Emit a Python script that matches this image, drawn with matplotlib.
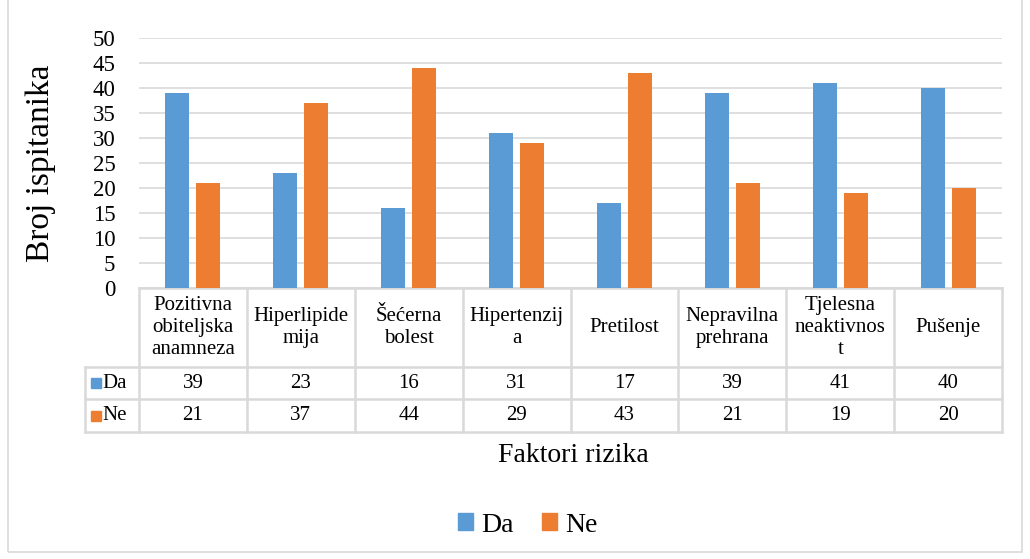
import matplotlib.pyplot as plt
from matplotlib.patches import Rectangle, Patch
from matplotlib.transforms import blended_transform_factory
import numpy as np

plt.rcParams['font.family'] = 'serif'
plt.rcParams['font.serif'] = ['Liberation Serif', 'DejaVu Serif']

# Data
categories = ["Pozitivna\nobiteljska\nanamneza", "Hiperlipide\nmija", "Šećerna\nbolest",
              "Hipertenzij\na", "Pretilost", "Nepravilna\nprehrana",
              "Tjelesna\nneaktivnos\nt", "Pušenje"]
da = [39, 23, 16, 31, 17, 39, 41, 40]
ne = [21, 37, 44, 29, 43, 21, 19, 20]
series_names = ["Da", "Ne"]
colors = ["#5B9BD5", "#ED7D31"]
grid_col = "#D9D9D9"

fig = plt.figure(figsize=(10.3, 5.59), dpi=100)
ax = fig.add_axes([139 / 1030, 1 - 288 / 559, 863 / 1030, 250 / 559])

x = np.arange(len(categories))
w = 0.223
ax.bar(x - 0.144, da, w, color=colors[0], zorder=3)
ax.bar(x + 0.144, ne, w, color=colors[1], zorder=3)

ax.set_xlim(-0.5, len(categories) - 0.5)
ax.set_ylim(0, 50)
ax.set_yticks(range(0, 51, 5))
ax.tick_params(axis='y', labelsize=16.5, length=0, pad=17)
ax.set_xticks([])
ax.yaxis.grid(True, color=grid_col, linewidth=1.2, zorder=0)
for s in ax.spines.values():
    s.set_visible(False)
ax.set_ylabel("Broj ispitanika", fontsize=24, labelpad=26)

# -------------------------------
# Data table below the plot
# -------------------------------
tr = blended_transform_factory(ax.transData, ax.transAxes)
y_head, y_r1, y_r2, y_r3 = 0.0, -0.316, -0.444, -0.576
n = len(categories)
lw = 1.8
ax.plot([-0.5, n - 0.5], [y_head, y_head], color=grid_col, lw=lw, transform=tr, clip_on=False)
for y in [y_r1, y_r2, y_r3]:
    ax.plot([-1.0, n - 0.5], [y, y], color=grid_col, lw=lw, transform=tr, clip_on=False)
for i in range(n + 1):
    ax.plot([i - 0.5, i - 0.5], [y_head, y_r3], color=grid_col, lw=lw, transform=tr, clip_on=False)
ax.plot([-1.0, -1.0], [y_r1, y_r3], color=grid_col, lw=lw, transform=tr, clip_on=False)

fs = 15
for i, c in enumerate(categories):
    ax.text(i, (y_head + y_r1) / 2, c, transform=tr, ha='center', va='center',
            fontsize=fs, linespacing=1.2)
    ax.text(i, (y_r1 + y_r2) / 2, str(da[i]), transform=tr, ha='center', va='center', fontsize=fs)
    ax.text(i, (y_r2 + y_r3) / 2, str(ne[i]), transform=tr, ha='center', va='center', fontsize=fs)

for k, (name, yy) in enumerate([(series_names[0], (y_r1 + y_r2) / 2),
                                (series_names[1], (y_r2 + y_r3) / 2)]):
    ax.plot([-0.9], [yy], marker='s', markersize=7, color=colors[k], transform=tr, clip_on=False)
    ax.text(-0.84, yy, name, transform=tr, ha='left', va='center', fontsize=fs)

fig.text(573 / 1030, 1 - 455 / 559, "Faktori rizika", ha='center', va='center', fontsize=20)

handles = [Patch(color=colors[0], label=series_names[0]),
           Patch(color=colors[1], label=series_names[1])]
fig.legend(handles=handles, loc='center', bbox_to_anchor=(528 / 1030, 1 - 525 / 559),
           ncol=2, frameon=False, fontsize=20, handlelength=0.55, handleheight=0.55,
           handletextpad=0.3, columnspacing=1.0)

fig.patches.append(Rectangle((8 / 1030, 7 / 559), 1014 / 1030, 560 / 559, transform=fig.transFigure,
                             fill=False, edgecolor=grid_col, lw=1.2))

fig.savefig("out.png", dpi=100)
